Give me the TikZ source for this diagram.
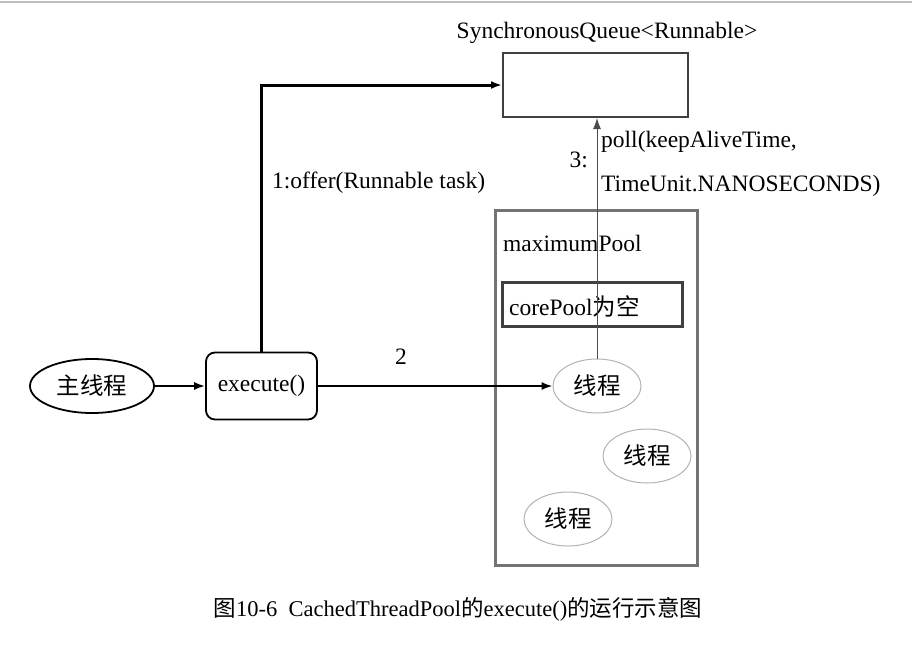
\documentclass[tikz,border=0pt]{standalone}
\usepackage{fontspec}
\setmainfont{Liberation Serif}
\newfontfamily\cjk{Noto Sans CJK SC}
\usetikzlibrary{arrows.meta,shapes.geometric}
\begin{document}
\begin{tikzpicture}[x=1pt,y=-1pt,
  font=\fontsize{23.5}{27}\selectfont,
  tip/.style={-{Latex[length=11pt,width=8pt]}},
  threadnode/.style={ellipse,draw=black!30,line width=1pt,minimum width=88pt,minimum height=54pt,inner sep=0pt},
  txt/.style={inner sep=0pt}]
\useasboundingbox (0,0) rectangle (912,654);
\draw[black!25,line width=1.5pt] (0,2) -- (912,2);
% nodes
\node[txt] (qlabel) at (607,33) {SynchronousQueue<Runnable>};
\node[draw=black!75,line width=2pt,minimum width=185pt,minimum height=64pt,inner sep=0pt] (queue) at (595.5,85) {};
\node[draw=black!55,line width=3pt,minimum width=202pt,minimum height=355pt,inner sep=0pt] (maxpool) at (596,387.5) {};
\node[txt,anchor=west] (maxlabel) at (503,243) {maximumPool};
\node[draw=black!75,line width=3pt,minimum width=180pt,minimum height=44pt,inner sep=0pt] (core) at (592,304) {};
\node[txt,anchor=west] (corelabel) at (509,306) {corePool{\cjk 为空}};
\node[threadnode] (t1) at (597,386) {\cjk 线程};
\node[threadnode] (t2) at (647,456) {\cjk 线程};
\node[threadnode] (t3) at (568,519) {\cjk 线程};
\node[ellipse,draw=black,line width=1.8pt,minimum width=124pt,minimum height=54pt,inner sep=0pt] (main) at (92,386) {\cjk 主线程};
\node[draw=black,line width=1.8pt,rounded corners=9pt,minimum width=111pt,minimum height=67pt,inner sep=0pt] (exec) at (261.5,386) {execute()};
% connectors
\draw[tip,line width=1.8pt] (main) -- (exec);
\draw[tip,line width=1.8pt] (exec.east) -- (t1.west);
\draw[tip,line width=3pt] (exec.north) |- (queue.west);
\draw[tip,black!70,line width=0.9pt] (t1.north) -- (t1.north |- queue.south);
% labels
\node[txt,anchor=west] (l1) at (272,183) {1:offer(Runnable task)};
\node[txt] (l2) at (401,357) {2};
\node[txt,anchor=east] (l3) at (588,160) {3:};
\node[txt,anchor=west] (l3a) at (601,142) {poll(keepAliveTime,};
\node[txt,anchor=west] (l3b) at (601,186) {TimeUnit.NANOSECONDS)};
\node[txt,font=\fontsize{22.5}{26}\selectfont] (caption) at (458,609) {{\cjk 图}10-6\ \ CachedThreadPool{\cjk 的}execute(){\cjk 的运行示意图}};
\end{tikzpicture}
\end{document}
